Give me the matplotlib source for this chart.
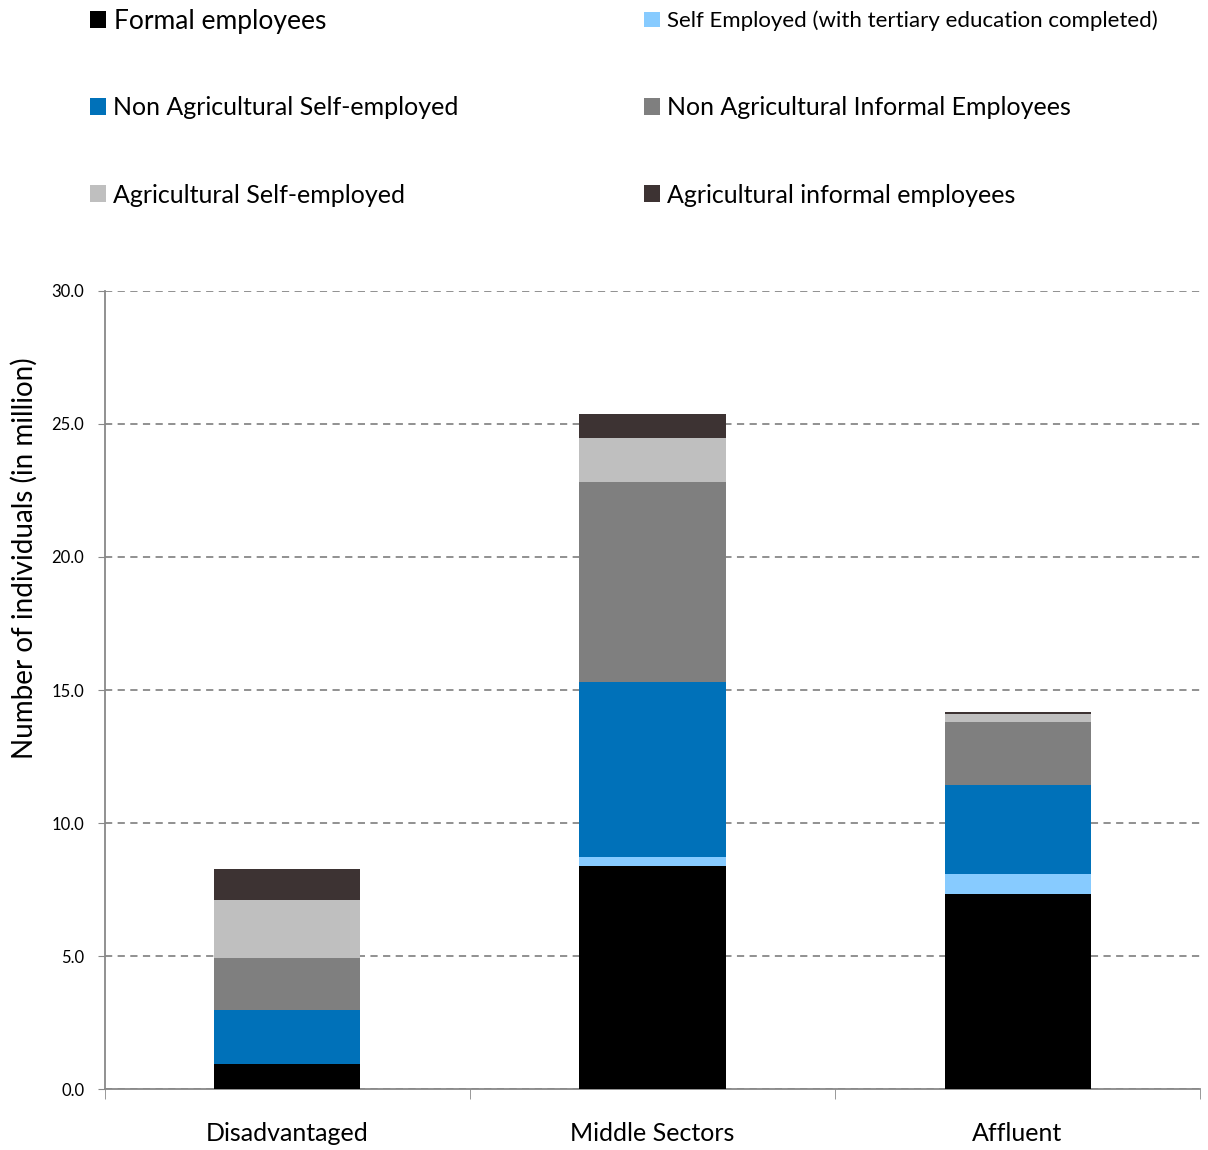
import matplotlib.pyplot as plt
from matplotlib.patches import Patch
import numpy as np

plt.rcParams['font.family'] = ['Lato', 'DejaVu Sans']

groups = ['Disadvantaged', 'Middle Sectors', 'Affluent']

formal = [0.93, 8.40, 7.32]
tertiary_self = [0.0, 0.34, 0.78]
nonag_self = [2.03, 6.56, 3.34]
nonag_informal = [1.96, 7.52, 2.34]
ag_self = [2.20, 1.66, 0.30]
ag_informal = [1.14, 0.90, 0.10]

series = [
    ('Formal employees', formal, '#000000'),
    ('Self Employed (with tertiary education completed)', tertiary_self, '#87CBFF'),
    ('Non Agricultural Self-employed', nonag_self, '#0071B9'),
    ('Non Agricultural Informal Employees', nonag_informal, '#7F7F7F'),
    ('Agricultural Self-employed', ag_self, '#BFBFBF'),
    ('Agricultural informal employees', ag_informal, '#3D3333'),
]

fig = plt.figure(figsize=(12.08, 11.5), dpi=100)
ax = fig.add_axes([0.0869, 0.053, 0.9065, 0.694])

x = np.arange(len(groups))
bottom = np.zeros(len(groups))
for name, vals, color in series:
    ax.bar(x, vals, width=0.4, bottom=bottom, color=color, edgecolor='none', zorder=3)
    bottom += np.array(vals)

ax.set_xlim(-0.5, 2.5)
ax.set_ylim(0, 30)
ax.set_yticks(np.arange(0, 31, 5))
ax.set_yticklabels([f'{v:.1f}' for v in np.arange(0, 31, 5)], fontsize=12)
ax.set_xticks(x)
ax.set_xticklabels(groups, fontsize=18)
ax.tick_params(axis='x', length=0, pad=24)
ax.tick_params(axis='y', length=5, color='#888888', pad=10)
ax.set_xticks([-0.5, 0.5, 1.5, 2.5], minor=True)
ax.tick_params(axis='x', which='minor', length=7, color='#888888', direction='out')
ax.set_ylabel('Number of individuals (in million)', fontsize=20)
ax.yaxis.set_label_coords(-0.061, 0.665)

ax.grid(axis='y', linestyle=(0, (4, 3)), color='#888888', linewidth=1.3, zorder=0)
for s in ['top', 'right']:
    ax.spines[s].set_visible(False)
for s in ['left', 'bottom']:
    ax.spines[s].set_color('#888888')
    ax.spines[s].set_linewidth(1.3)

# legend entries laid out in two columns of three rows above the plot
order = [0, 2, 4, 1, 3, 5]
sizes = [19, 18, 18, 16, 18, 18]
col_x = [0.0745, 0.533]
row_y = [0.9817, 0.9061, 0.8304]
for k, (idx, size) in enumerate(zip(order, sizes)):
    name, _, color = series[idx]
    leg = fig.legend([Patch(facecolor=color, edgecolor='none')], [name],
                     loc='center left', bbox_to_anchor=(col_x[k // 3], row_y[k % 3]),
                     frameon=False, fontsize=size, handlelength=16 / size / 1.39,
                     handleheight=16 / size / 1.39, handletextpad=0.3,
                     borderpad=0, borderaxespad=0)

fig.savefig('out.png', dpi=100)
